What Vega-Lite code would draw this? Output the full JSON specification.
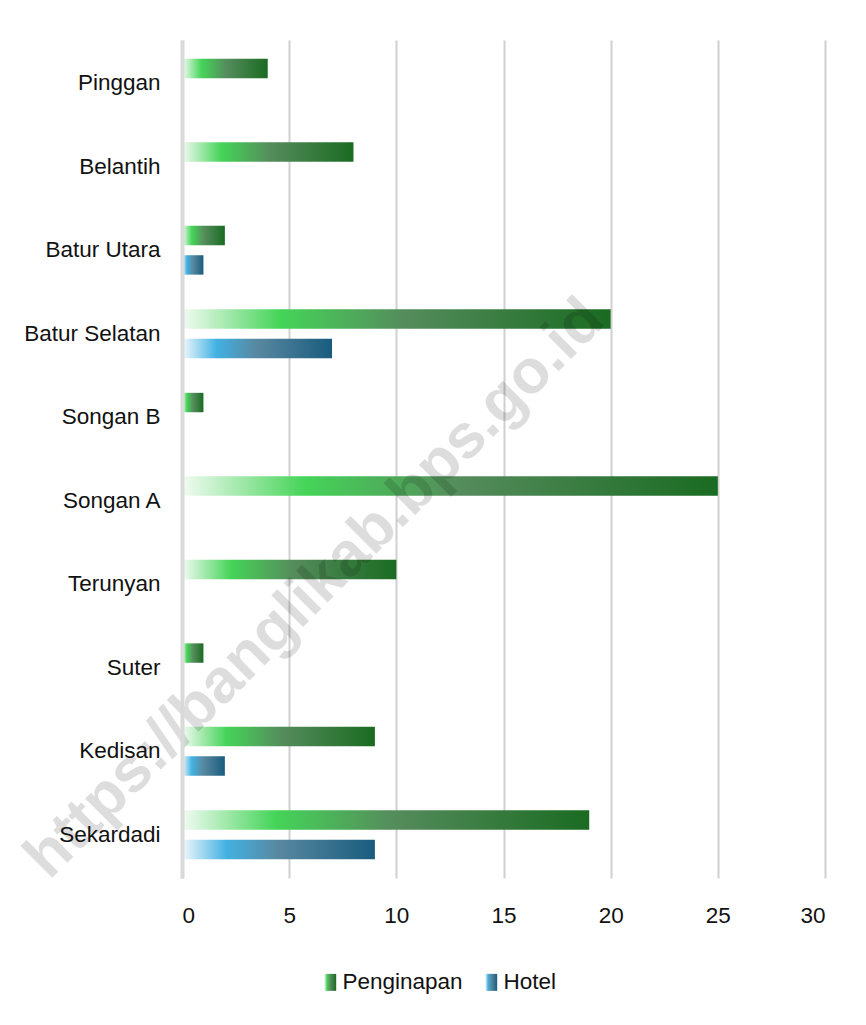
{
  "$schema": "https://vega.github.io/schema/vega-lite/v6.json",
  "width": 643,
  "height": 838,
  "autosize": {"type": "none"},
  "padding": {"left": 182, "top": 40, "right": 41, "bottom": 147},
  "background": "white",
  "config": {"view": {"stroke": null}, "font": "Liberation Sans"},
  "datasets": {
    "bars": [
      {"desa": "Pinggan", "jenis": "Penginapan", "jumlah": 4},
      {"desa": "Pinggan", "jenis": "Hotel", "jumlah": 0},
      {"desa": "Belantih", "jenis": "Penginapan", "jumlah": 8},
      {"desa": "Belantih", "jenis": "Hotel", "jumlah": 0},
      {"desa": "Batur Utara", "jenis": "Penginapan", "jumlah": 2},
      {"desa": "Batur Utara", "jenis": "Hotel", "jumlah": 1},
      {"desa": "Batur Selatan", "jenis": "Penginapan", "jumlah": 20},
      {"desa": "Batur Selatan", "jenis": "Hotel", "jumlah": 7},
      {"desa": "Songan B", "jenis": "Penginapan", "jumlah": 1},
      {"desa": "Songan B", "jenis": "Hotel", "jumlah": 0},
      {"desa": "Songan A", "jenis": "Penginapan", "jumlah": 25},
      {"desa": "Songan A", "jenis": "Hotel", "jumlah": 0},
      {"desa": "Terunyan", "jenis": "Penginapan", "jumlah": 10},
      {"desa": "Terunyan", "jenis": "Hotel", "jumlah": 0},
      {"desa": "Suter", "jenis": "Penginapan", "jumlah": 1},
      {"desa": "Suter", "jenis": "Hotel", "jumlah": 0},
      {"desa": "Kedisan", "jenis": "Penginapan", "jumlah": 9},
      {"desa": "Kedisan", "jenis": "Hotel", "jumlah": 2},
      {"desa": "Sekardadi", "jenis": "Penginapan", "jumlah": 19},
      {"desa": "Sekardadi", "jenis": "Hotel", "jumlah": 9}
    ],
    "wm": [
      {"teks": "https://banglikab.bps.go.id", "posx": 6.39, "desa": "Terunyan"}
    ]
  },
  "layer": [
    {
      "data": {"name": "bars"},
      "mark": {"type": "bar"},
      "encoding": {
        "y": {
          "field": "desa", "type": "nominal", "sort": null,
          "scale": {
            "domain": ["Pinggan", "Belantih", "Batur Utara", "Batur Selatan", "Songan B", "Songan A", "Terunyan", "Suter", "Kedisan", "Sekardadi"],
            "paddingInner": 0.415, "paddingOuter": 0.225
          },
          "axis": {
            "title": null, "ticks": false, "grid": false,
            "domainColor": "#d9d9d9", "domainWidth": 4,
            "labelPadding": 22, "labelFontSize": 22.5, "labelColor": "#111111",
            "labelFont": "Liberation Sans", "zindex": 1
          }
        },
        "yOffset": {
          "field": "jenis", "type": "nominal",
          "scale": {"domain": ["Penginapan", "Hotel"], "paddingInner": 0.34}
        },
        "x": {
          "field": "jumlah", "type": "quantitative",
          "scale": {"domain": [0, 30], "nice": false},
          "axis": {
            "title": null, "values": [0, 5, 10, 15, 20, 25, 30],
            "domain": false, "ticks": false, "grid": true,
            "gridColor": "#d0d0d0", "gridWidth": 2,
            "labelPadding": 26, "labelFontSize": 22.5, "labelColor": "#111111",
            "labelFont": "Liberation Sans"
          }
        },
        "color": {
          "field": "jenis", "type": "nominal",
          "scale": {
            "domain": ["Penginapan", "Hotel"],
            "range": [
              {"expr": "{gradient:'linear',x1:0,y1:0,x2:1,y2:0,stops:[{offset:0,color:'#f3fbf4'},{offset:0.23,color:'#45d458'},{offset:0.52,color:'#558c5c'},{offset:1,color:'#1a6b22'}]}"},
              {"expr": "{gradient:'linear',x1:0,y1:0,x2:1,y2:0,stops:[{offset:0,color:'#f2f9fd'},{offset:0.23,color:'#42b1e2'},{offset:0.5,color:'#5888a0'},{offset:1,color:'#1a5c7e'}]}"}
            ]
          },
          "legend": {
            "orient": "none", "legendX": 137, "legendY": 931,
            "direction": "horizontal", "title": null,
            "symbolType": "M-0.7,-1H0.7V1H-0.7Z", "symbolSize": 289,
            "symbolStrokeWidth": 0,
            "labelFontSize": 22.5, "labelOffset": 1, "columnPadding": 17,
            "labelColor": "#111111", "labelFont": "Liberation Sans"
          }
        }
      }
    },
    {
      "data": {"name": "wm"},
      "mark": {
        "type": "text", "angle": -45, "font": "Liberation Sans",
        "fontWeight": "bold", "fontSize": 62, "fill": "#000000",
        "opacity": 0.13, "align": "center", "baseline": "middle", "dx": -6
      },
      "encoding": {
        "x": {"field": "posx", "type": "quantitative"},
        "y": {"field": "desa", "type": "nominal"},
        "text": {"field": "teks"}
      }
    }
  ]
}
